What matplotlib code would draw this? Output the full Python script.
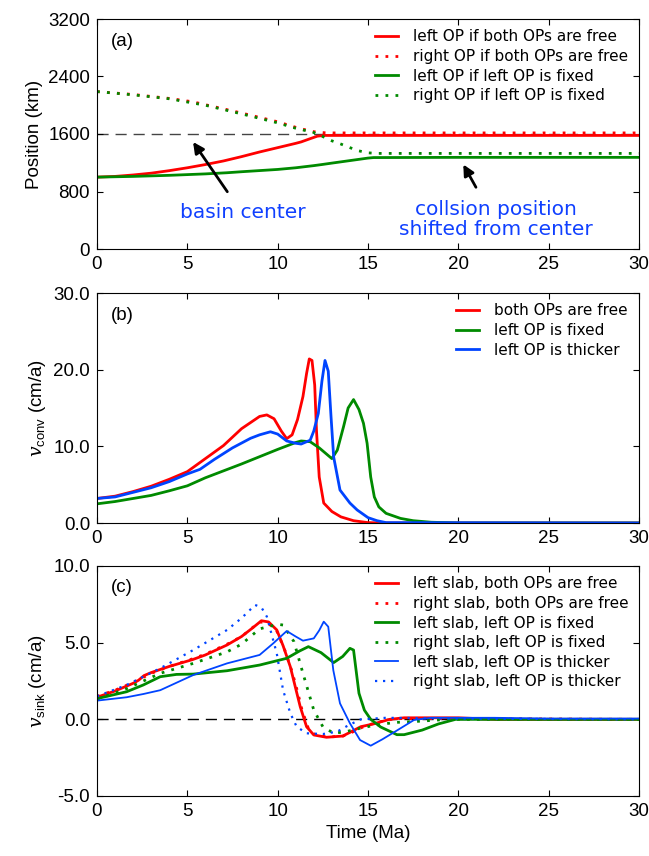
import matplotlib
matplotlib.use("Agg")
import matplotlib.pyplot as plt
from matplotlib.ticker import FormatStrFormatter

# ---- panel (a): plate positions (km) ----
ta_red = [0, 1, 2, 3, 4, 5, 6, 7, 8, 9, 10, 11, 11.3, 11.8, 12.2, 12.6, 15, 20, 25, 30]
pa_red = [1000, 1010, 1030, 1055, 1090, 1130, 1175, 1225, 1285, 1350, 1410, 1470,
          1490, 1535, 1570, 1580, 1580, 1580, 1580, 1580]
ta_red_r = [0, 2, 4, 5.3, 7, 8.1, 10, 11.2, 12, 12.7, 15, 20, 25, 30]
pa_red_r = [2190, 2150, 2095, 2048, 1950, 1886, 1770, 1678, 1632, 1615, 1615, 1615, 1615, 1615]
ta_grn = [0, 2, 4, 6, 7.2, 8, 10, 11, 12, 12.5, 13, 14, 15, 15.3, 20, 25, 30]
pa_grn = [1000, 1010, 1025, 1045, 1061, 1075, 1107, 1130, 1160, 1177, 1195, 1230, 1265,
          1272, 1275, 1275, 1275]
ta_grn_r = [0, 2, 4, 6, 8, 10, 11, 12, 12.6, 13, 13.5, 14, 14.5, 15, 15.5, 20, 25, 30]
pa_grn_r = [2190, 2145, 2090, 2000, 1880, 1755, 1680, 1620, 1553, 1505, 1460, 1410, 1365,
            1338, 1330, 1330, 1330, 1330]
basin_center = 1600

# ---- panel (b): convergence velocity (cm/a) ----
tb_red = [0, 1, 2, 3, 4, 5, 6, 7, 7.5, 8, 8.5, 9, 9.4, 9.8, 10.2, 10.5, 10.8, 11.1, 11.4,
          11.6, 11.75, 11.9, 12.05, 12.15, 12.3, 12.55, 13.0, 13.5, 14.2, 15, 16, 30]
vb_red = [3.2, 3.5, 4.1, 4.8, 5.7, 6.7, 8.4, 10.1, 11.2, 12.3, 13.1, 13.9, 14.1, 13.6, 12.0,
          11.0, 11.5, 13.5, 16.5, 19.5, 21.4, 21.2, 18.0, 12.0, 6.0, 2.6, 1.5, 0.8, 0.3,
          0.05, 0, 0]
tb_blu = [0, 1, 2, 3, 4, 5, 5.7, 6.5, 7.5, 8.5, 9.0, 9.6, 10.0, 10.5, 11.0, 11.3, 11.8,
          12.0, 12.25, 12.45, 12.62, 12.8, 12.95, 13.1, 13.45, 14.0, 14.4, 15.0, 15.5, 16, 30]
vb_blu = [3.2, 3.4, 4.0, 4.6, 5.4, 6.4, 7.0, 8.3, 9.8, 11.05, 11.5, 11.9, 11.6, 10.7, 10.4,
          10.3, 10.8, 12.0, 14.3, 18.5, 21.2, 19.8, 14.0, 8.6, 4.3, 2.6, 1.7, 0.7, 0.3, 0.05, 0]
tb_grn = [0, 1, 2, 3, 4, 5, 6, 7, 8, 9, 10, 11, 11.3, 11.8, 12.3, 13.0, 13.3, 13.65, 13.9,
          14.2, 14.5, 14.75, 14.95, 15.15, 15.35, 15.6, 16.0, 16.8, 17.5, 18.5, 20, 30]
vb_grn = [2.5, 2.8, 3.2, 3.6, 4.2, 4.85, 5.9, 6.8, 7.7, 8.65, 9.6, 10.5, 10.7, 10.6, 9.8,
          8.4, 9.5, 12.6, 15.0, 16.1, 14.8, 13.0, 10.4, 6.0, 3.4, 2.1, 1.26, 0.6, 0.3, 0.1, 0, 0]

# ---- panel (c): slab sinking velocity (cm/a) ----
tc_red = [0, 1, 2, 2.3, 2.6, 3, 4, 5.3, 6, 7.2, 8, 8.6, 9.1, 9.5, 9.95, 10.3, 10.7, 11.0,
          11.25, 11.6, 12.0, 12.7, 13.6, 14.0, 14.6, 15.3, 16.2, 17, 20, 22, 30]
vc_red = [1.44, 1.85, 2.35, 2.55, 2.85, 3.05, 3.45, 3.9, 4.2, 4.85, 5.4, 5.95, 6.43, 6.35,
          5.83, 4.8, 3.43, 2.0, 0.82, -0.48, -1.02, -1.17, -1.09, -0.85, -0.48, -0.3, 0.0,
          0.1, 0.1, 0.0, 0.0]
tc_red_r = [0, 1, 2, 3, 4, 5.3, 6, 7.2, 8, 9.0, 9.4, 9.9, 10.4, 10.8, 11.1, 11.35, 11.7,
            12.1, 12.8, 13.6, 14.2, 14.8, 15.5, 16.5, 20, 30]
vc_red_r = [1.5, 1.9, 2.4, 3.0, 3.45, 3.95, 4.25, 4.9, 5.4, 6.35, 6.3, 5.9, 4.5, 3.1, 1.8,
            0.6, -0.6, -1.05, -1.15, -1.1, -0.8, -0.45, -0.2, 0.05, 0.05, 0.0]
tc_grn = [0, 1.64, 2.56, 3.5, 4.4, 5.33, 7.2, 9.0, 10.5, 11.2, 11.7, 12.4, 13.1, 13.6, 14.0,
          14.2, 14.5, 14.8, 15.15, 15.7, 16.6, 17.0, 18.0, 18.9, 19.85, 30]
vc_grn = [1.35, 1.8, 2.24, 2.78, 2.93, 2.95, 3.17, 3.54, 3.98, 4.45, 4.74, 4.35, 3.7, 4.1,
          4.63, 4.52, 1.7, 0.6, 0.0, -0.5, -1.0, -1.0, -0.7, -0.3, 0.0, 0.0]
tc_grn_r = [0, 1.64, 3.5, 5.33, 7.2, 8, 9, 10.0, 10.3, 10.9, 11.4, 12.0, 12.5, 13.1, 13.8,
            14.5, 15.3, 16.5, 17.5, 19.4, 30]
vc_grn_r = [1.3, 2.0, 3.0, 3.65, 4.4, 4.9, 5.9, 6.2, 6.15, 5.07, 3.0, 0.6, -0.48, -0.91,
            -0.8, -0.6, -0.4, -0.2, -0.15, 0.0, 0.0]
tc_blu = [0, 1.64, 2.56, 3.5, 5.33, 7.2, 9.0, 9.76, 10.5, 11.0, 11.4, 12.0, 12.3, 12.55,
          12.8, 13.08, 13.45, 14.0, 14.56, 15.15, 15.8, 16.64, 17.55, 18.5, 22, 25, 30]
vc_blu = [1.22, 1.44, 1.65, 1.9, 2.89, 3.65, 4.2, 4.96, 5.76, 5.4, 5.13, 5.28, 5.8, 6.37,
          6.04, 3.2, 1.04, -0.26, -1.35, -1.72, -1.3, -0.7, -0.04, 0.1, 0.1, 0.05, 0.05]
tc_blu_r = [0, 1.64, 3.5, 5.33, 7.2, 8.0, 8.75, 9.1, 9.4, 9.95, 10.3, 10.7, 11.05, 11.6,
            12.5, 13.3, 13.9, 14.6, 16, 20, 30]
vc_blu_r = [1.5, 2.24, 3.33, 4.52, 5.83, 6.6, 7.46, 7.3, 6.7, 4.3, 1.9, 0.4, -0.48, -0.91,
            -0.96, -0.8, -0.4, 0.0, 0.1, 0.05, 0.0]

RED = "#ff0000"
GRN = "#008a00"
BLU = "#0044ff"
TXT_BLUE = "#1040ff"
DOT = (0, (1, 2.6))

plt.rcParams["font.family"] = ["Liberation Sans", "DejaVu Sans"]
plt.rcParams["mathtext.fontset"] = "custom"
plt.rcParams["mathtext.rm"] = "Liberation Sans"
plt.rcParams["mathtext.it"] = "DejaVu Serif:italic"
plt.rcParams["xtick.direction"] = "in"
plt.rcParams["ytick.direction"] = "in"
plt.rcParams["xtick.top"] = True
plt.rcParams["ytick.right"] = True
plt.rcParams["xtick.major.size"] = 4.5
plt.rcParams["ytick.major.size"] = 4.5
plt.rcParams["xtick.major.pad"] = 5
plt.rcParams["ytick.major.pad"] = 5
plt.rcParams["xtick.labelsize"] = 13.5
plt.rcParams["ytick.labelsize"] = 13.5
plt.rcParams["axes.labelsize"] = 13.5

fig = plt.figure(figsize=(6.49, 8.56), dpi=100)
W = 542 / 649
H = 230 / 856
ax_a = fig.add_axes([97 / 649, 1 - 249 / 856, W, H])
ax_b = fig.add_axes([97 / 649, 1 - 523 / 856, W, H])
ax_c = fig.add_axes([97 / 649, 1 - 796 / 856, W, H])


def legend(ax, x0):
    ax.legend(loc="upper left", bbox_to_anchor=(x0, 0.955), frameon=False,
              borderpad=0, borderaxespad=0, handlelength=1.5, handletextpad=1.0,
              labelspacing=0.3, prop={"family": "DejaVu Sans", "size": 11})


def panel_label(ax, s):
    ax.text(0.026, 1 - 22 / 230, s, transform=ax.transAxes, va="center", ha="left",
            fontsize=13.5)


# (a)
ax_a.axhline(basin_center, color="#444444", lw=1, dashes=(8, 5), zorder=1)
ax_a.plot(ta_red, pa_red, color=RED, lw=2, label="left OP if both OPs are free")
ax_a.plot(ta_red_r, pa_red_r, color=RED, lw=2, linestyle=DOT,
          label="right OP if both OPs are free")
ax_a.plot(ta_grn, pa_grn, color=GRN, lw=2, label="left OP if left OP is fixed")
ax_a.plot(ta_grn_r, pa_grn_r, color=GRN, lw=2, linestyle=DOT,
          label="right OP if left OP is fixed")
ax_a.annotate("", xy=(5.23, 1521), xytext=(7.3, 765),
              arrowprops=dict(arrowstyle="-|>", color="k", lw=2, mutation_scale=16))
ax_a.annotate("", xy=(20.2, 1210), xytext=(21.05, 825),
              arrowprops=dict(arrowstyle="-|>", color="k", lw=2, mutation_scale=16))
ax_a.text(8.05, 510, "basin center", color=TXT_BLUE, ha="center", va="center",
          fontsize=14.5, family="DejaVu Sans")
ax_a.text(22.1, 410, "collsion position\nshifted from center", color=TXT_BLUE,
          ha="center", va="center", fontsize=14.5, family="DejaVu Sans",
          linespacing=1.05)
ax_a.set_xlim(0, 30)
ax_a.set_ylim(0, 3200)
ax_a.set_yticks([0, 800, 1600, 2400, 3200])
ax_a.set_ylabel("Position (km)")
legend(ax_a, 0.513)
panel_label(ax_a, "(a)")

# (b)
ax_b.plot(tb_red, vb_red, color=RED, lw=2, label="both OPs are free")
ax_b.plot(tb_grn, vb_grn, color=GRN, lw=2, label="left OP is fixed")
ax_b.plot(tb_blu, vb_blu, color=BLU, lw=2, label="left OP is thicker")
ax_b.set_xlim(0, 30)
ax_b.set_ylim(0, 30)
ax_b.set_yticks([0, 10, 20, 30])
ax_b.yaxis.set_major_formatter(FormatStrFormatter("%.1f"))
ax_b.set_ylabel(r"$v_{\rm conv}$ (cm/a)")
legend(ax_b, 0.662)
panel_label(ax_b, "(b)")

# (c)
ax_c.axhline(0, color="k", lw=1, dashes=(8, 5), zorder=1)
ax_c.plot(tc_red, vc_red, color=RED, lw=2, label="left slab, both OPs are free")
ax_c.plot(tc_red_r, vc_red_r, color=RED, lw=2, linestyle=DOT,
          label="right slab, both OPs are free")
ax_c.plot(tc_grn, vc_grn, color=GRN, lw=2, label="left slab, left OP is fixed")
ax_c.plot(tc_grn_r, vc_grn_r, color=GRN, lw=2, linestyle=DOT,
          label="right slab, left OP is fixed")
ax_c.plot(tc_blu, vc_blu, color=BLU, lw=1.3, label="left slab, left OP is thicker")
ax_c.plot(tc_blu_r, vc_blu_r, color=BLU, lw=1.6, linestyle=DOT,
          label="right slab, left OP is thicker")
ax_c.set_xlim(0, 30)
ax_c.set_ylim(-5, 10)
ax_c.set_yticks([-5, 0, 5, 10])
ax_c.yaxis.set_major_formatter(FormatStrFormatter("%.1f"))
ax_c.set_ylabel(r"$v_{\rm sink}$ (cm/a)")
ax_c.set_xlabel("Time (Ma)")
legend(ax_c, 0.513)
panel_label(ax_c, "(c)")

fig.savefig("out.png", dpi=100)
